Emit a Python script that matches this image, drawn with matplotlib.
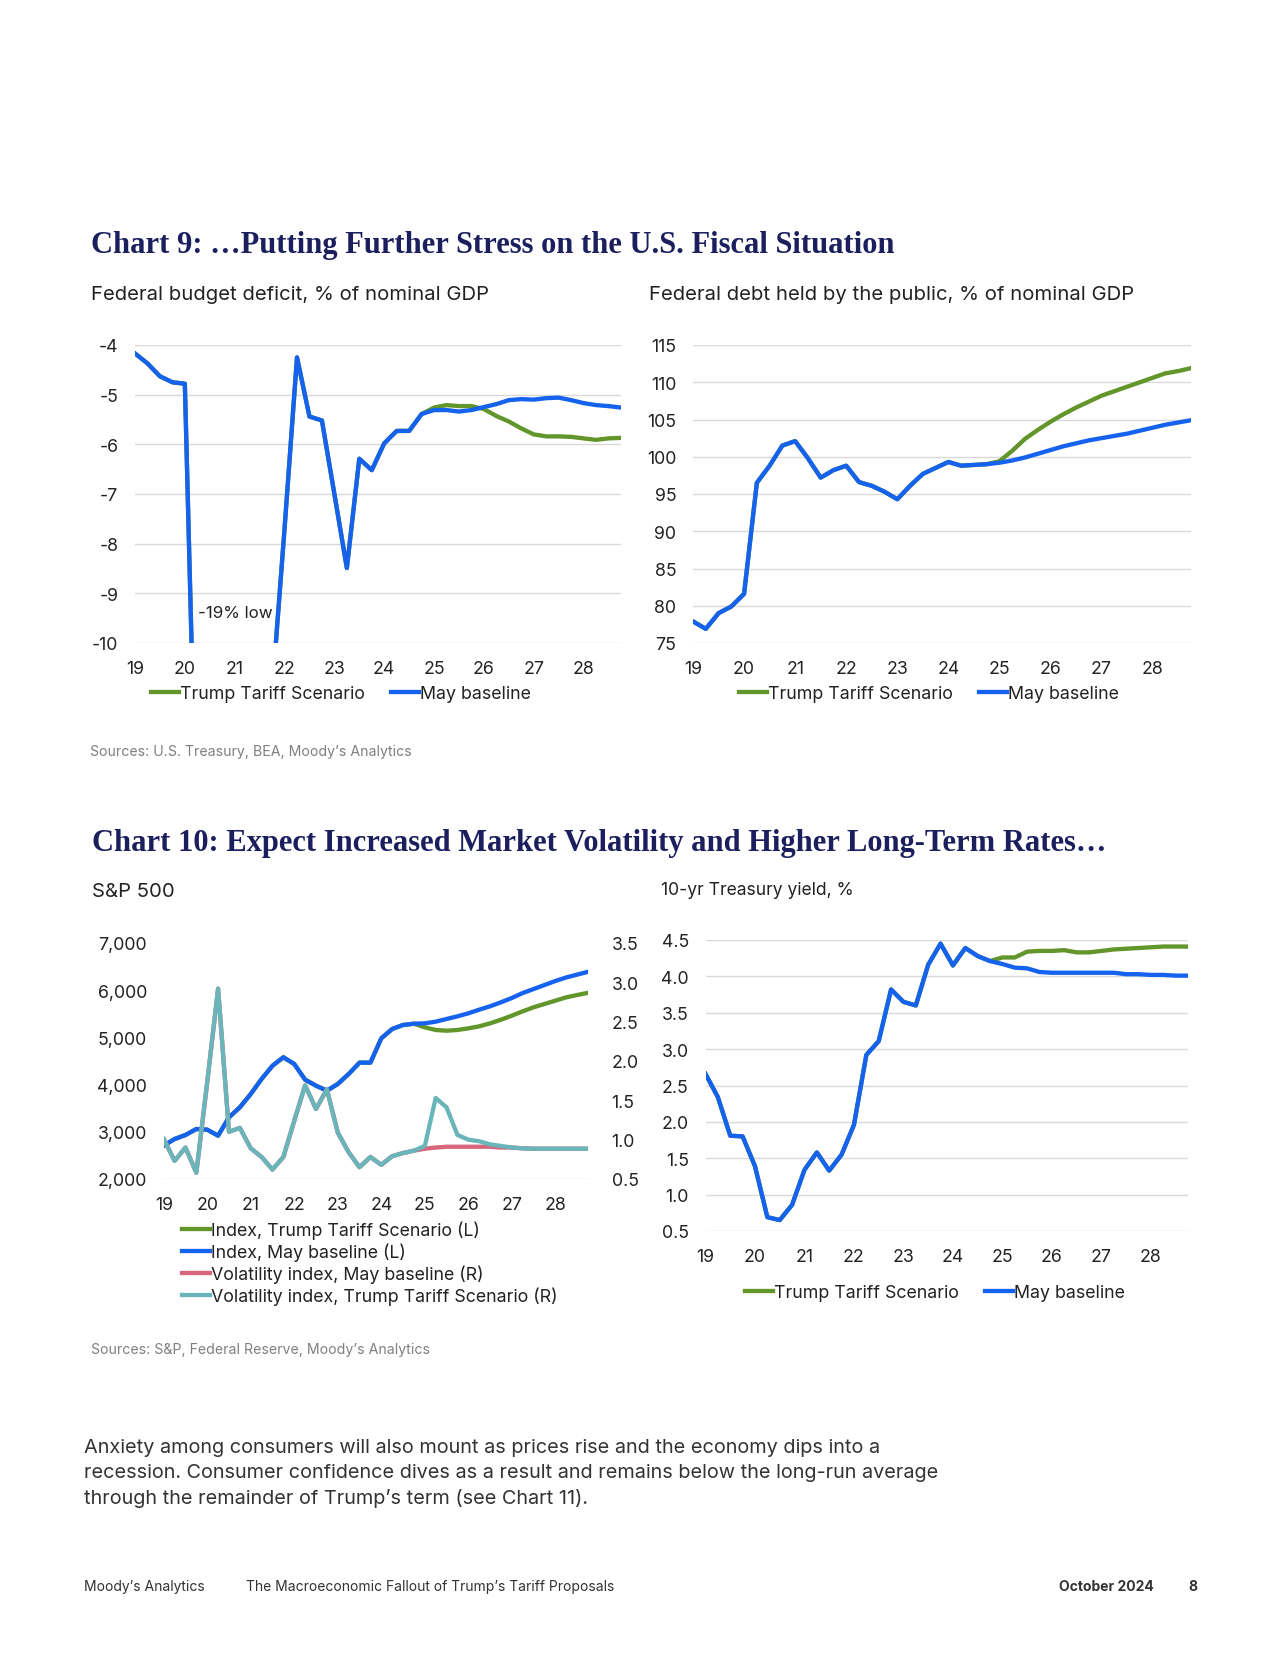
import matplotlib
matplotlib.use("Agg")
import matplotlib.pyplot as plt
from matplotlib.ticker import FuncFormatter

# page size in pixels
W, H = 1280, 1656

# quarters 2019Q1 .. 2028Q4
quarters = list(range(40))
year_ticks = [19, 20, 21, 22, 23, 24, 25, 26, 27, 28]

# Chart 9, left: federal budget deficit, % of GDP
deficit_base = [-4.17, -4.37, -4.63, -4.75, -4.78, -14.5, -19.0, -16.5, -15.0, -14.0,
                -13.0, -11.0, -7.7, -4.25, -5.44, -5.52, -7.0, -8.49, -6.29, -6.52,
                -5.98, -5.73, -5.73, -5.39, -5.31, -5.31, -5.34, -5.31, -5.25, -5.19,
                -5.11, -5.09, -5.10, -5.07, -5.06, -5.11, -5.17, -5.21, -5.23, -5.26]
deficit_tariff = [-4.17, -4.37, -4.63, -4.75, -4.78, -14.5, -19.0, -16.5, -15.0, -14.0,
                  -13.0, -11.0, -7.7, -4.25, -5.44, -5.52, -7.0, -8.49, -6.29, -6.52,
                  -5.98, -5.73, -5.73, -5.39, -5.26, -5.21, -5.23, -5.23, -5.29, -5.43,
                  -5.54, -5.68, -5.80, -5.84, -5.84, -5.85, -5.88, -5.91, -5.88, -5.87]

# Chart 9, right: federal debt held by the public, % of GDP
debt_base = [77.9, 76.9, 79.0, 79.9, 81.6, 96.5, 98.8, 101.5, 102.1, 99.8,
             97.2, 98.2, 98.8, 96.6, 96.1, 95.3, 94.3, 96.1, 97.7, 98.5,
             99.3, 98.8, 98.9, 99.0, 99.2, 99.5, 99.9, 100.4, 100.9, 101.4,
             101.8, 102.2, 102.5, 102.8, 103.1, 103.5, 103.9, 104.3, 104.6, 104.9]
debt_tariff = [77.9, 76.9, 79.0, 79.9, 81.6, 96.5, 98.8, 101.5, 102.1, 99.8,
               97.2, 98.2, 98.8, 96.6, 96.1, 95.3, 94.3, 96.1, 97.7, 98.5,
               99.3, 98.8, 98.9, 99.0, 99.4, 100.8, 102.4, 103.6, 104.7, 105.7,
               106.6, 107.4, 108.2, 108.8, 109.4, 110.0, 110.6, 111.2, 111.5, 111.9]

# Chart 10, left: S&P 500 index (L) and volatility index (R)
sp_base = [2706, 2847, 2932, 3059, 3045, 2918, 3307, 3519, 3801, 4119,
           4400, 4579, 4436, 4104, 3977, 3871, 4013, 4225, 4465, 4465,
           4980, 5178, 5263, 5290, 5298, 5333, 5390, 5447, 5510, 5587,
           5659, 5744, 5835, 5941, 6025, 6110, 6195, 6270, 6330, 6390]
sp_tariff = [2706, 2847, 2932, 3059, 3045, 2918, 3307, 3519, 3801, 4119,
             4400, 4579, 4436, 4104, 3977, 3871, 4013, 4225, 4465, 4465,
             4980, 5178, 5263, 5290, 5213, 5157, 5142, 5157, 5192, 5234,
             5298, 5375, 5460, 5553, 5638, 5708, 5778, 5849, 5898, 5945]
vol_base = [1.01, 0.73, 0.90, 0.58, 1.73, 2.92, 1.10, 1.15, 0.89, 0.78,
            0.62, 0.78, 1.24, 1.69, 1.39, 1.64, 1.09, 0.84, 0.65, 0.78,
            0.68, 0.79, 0.83, 0.86, 0.885, 0.90, 0.91, 0.91, 0.91, 0.91,
            0.91, 0.90, 0.90, 0.89, 0.885, 0.885, 0.885, 0.885, 0.885, 0.885]
vol_tariff = [1.01, 0.73, 0.90, 0.58, 1.73, 2.92, 1.10, 1.15, 0.89, 0.78,
              0.62, 0.78, 1.24, 1.69, 1.39, 1.64, 1.09, 0.84, 0.65, 0.78,
              0.68, 0.79, 0.83, 0.86, 0.92, 1.53, 1.41, 1.06, 1.00, 0.98,
              0.94, 0.92, 0.90, 0.89, 0.885, 0.885, 0.885, 0.885, 0.885, 0.885]

# Chart 10, right: 10-yr Treasury yield, %
yield_base = [2.66, 2.34, 1.81, 1.80, 1.39, 0.69, 0.65, 0.86, 1.34, 1.58,
              1.33, 1.55, 1.96, 2.92, 3.11, 3.82, 3.65, 3.60, 4.16, 4.45,
              4.15, 4.39, 4.28, 4.21, 4.17, 4.12, 4.11, 4.06, 4.05, 4.05,
              4.05, 4.05, 4.05, 4.05, 4.03, 4.03, 4.02, 4.02, 4.01, 4.01]
yield_tariff = [2.66, 2.34, 1.81, 1.80, 1.39, 0.69, 0.65, 0.86, 1.34, 1.58,
                1.33, 1.55, 1.96, 2.92, 3.11, 3.82, 3.65, 3.60, 4.16, 4.45,
                4.15, 4.39, 4.28, 4.21, 4.26, 4.26, 4.34, 4.35, 4.35, 4.36,
                4.33, 4.33, 4.35, 4.37, 4.38, 4.39, 4.40, 4.41, 4.41, 4.41]

GREEN = "#62952a"
BLUE = "#1462ee"
TEAL = "#6ab5ba"
PINK = "#d7667c"
NAVY = "#1b1f5e"
GRID = "#d9d9d9"
TEXT = "#222222"

plt.rcParams["font.family"] = ["Inter", "DejaVu Sans"]
plt.rcParams["axes.unicode_minus"] = False
TICK_SIZE = 12.8
SUB_SIZE = 14.6
TITLE_SIZE = 22
LW = 3.1

x = [19 + q / 4 for q in quarters]


def px_rect(left, top, right, bottom):
    return [left / W, 1 - bottom / H, (right - left) / W, (bottom - top) / H]


def fy(y):
    return 1 - y / H


def style_axes(ax, grid=True):
    for s in ax.spines.values():
        s.set_visible(False)
    ax.tick_params(length=0, labelsize=TICK_SIZE, colors=TEXT)
    ax.tick_params(axis="y", pad=12)
    ax.tick_params(axis="x", pad=12)
    ax.set_xlim(19, 28.75)
    ax.set_xticks(year_ticks)
    ax.set_xticklabels([str(t) for t in year_ticks])
    if grid:
        ax.yaxis.grid(True, color=GRID, lw=1)
        ax.set_axisbelow(True)


def add_legend(fig, handles, labels, x0, y0, ncol=2, colsp=1.45, labelsp=0.25):
    fig.legend(handles, labels, loc="center left", bbox_to_anchor=(x0 / W, fy(y0)),
               bbox_transform=fig.transFigure, ncol=ncol, frameon=False,
               fontsize=TICK_SIZE, handlelength=1.55, handletextpad=0.1,
               columnspacing=colsp, labelspacing=labelsp, borderpad=0,
               borderaxespad=0, labelcolor=TEXT)


fig = plt.figure(figsize=(W / 100, H / 100), dpi=100)

# ---------- Chart 9 ----------
fig.text(91 / W, fy(245), "Chart 9: \u2026Putting Further Stress on the U.S. Fiscal Situation",
         family="Liberation Serif", weight="bold", fontsize=TITLE_SIZE, color=NAVY, va="center")
fig.text(91 / W, fy(295), "Federal budget deficit, % of nominal GDP", fontsize=SUB_SIZE, color=TEXT, va="center")
fig.text(649 / W, fy(295), "Federal debt held by the public, % of nominal GDP", fontsize=SUB_SIZE, color=TEXT, va="center")

ax1 = fig.add_axes(px_rect(135, 346, 621, 644))
style_axes(ax1)
g1, = ax1.plot(x, deficit_tariff, color=GREEN, lw=LW)
b1, = ax1.plot(x, deficit_base, color=BLUE, lw=LW)
ax1.set_ylim(-10, -4)
ax1.set_yticks(range(-10, -3))
ax1.text(20.27, -9.38, "-19% low", fontsize=12.2, color=TEXT, va="center", ha="left")
add_legend(fig, [g1, b1], ["Trump Tariff Scenario", "May baseline"], 151, 695)

ax2 = fig.add_axes(px_rect(693, 346, 1191, 644))
style_axes(ax2)
g2, = ax2.plot(x, debt_tariff, color=GREEN, lw=LW)
b2, = ax2.plot(x, debt_base, color=BLUE, lw=LW)
ax2.set_ylim(75, 115)
ax2.set_yticks(range(75, 116, 5))
add_legend(fig, [g2, b2], ["Trump Tariff Scenario", "May baseline"], 739, 695)

fig.text(90 / W, fy(752), "Sources: U.S. Treasury, BEA, Moody\u2019s Analytics", fontsize=10.2, color="#808080", va="center")

# ---------- Chart 10 ----------
fig.text(92 / W, fy(844), "Chart 10: Expect Increased Market Volatility and Higher Long-Term Rates\u2026",
         family="Liberation Serif", weight="bold", fontsize=TITLE_SIZE, color=NAVY, va="center")
fig.text(92 / W, fy(892), "S&P 500", fontsize=SUB_SIZE, color=TEXT, va="center")
fig.text(661 / W, fy(891), "10-yr Treasury yield, %", fontsize=12.6, color=TEXT, va="center")

ax3 = fig.add_axes(px_rect(163.7, 944, 588, 1180))
style_axes(ax3, grid=False)
ax3.axhline(2000, color=GRID, lw=1, zorder=0)
g3, = ax3.plot(x, sp_tariff, color=GREEN, lw=LW)
b3, = ax3.plot(x, sp_base, color=BLUE, lw=LW)
ax3.set_ylim(2000, 7000)
ax3.set_yticks(range(2000, 7001, 1000))
ax3.yaxis.set_major_formatter(FuncFormatter(lambda v, p: f"{v:,.0f}"))
ax3r = ax3.twinx()
for s in ax3r.spines.values():
    s.set_visible(False)
p3, = ax3r.plot(x, vol_base, color=PINK, lw=LW)
t3, = ax3r.plot(x, vol_tariff, color=TEAL, lw=LW)
ax3r.set_ylim(0.5, 3.5)
ax3r.set_yticks([0.5, 1.0, 1.5, 2.0, 2.5, 3.0, 3.5])
ax3r.yaxis.set_major_formatter(FuncFormatter(lambda v, p: f"{v:.1f}"))
ax3r.tick_params(length=0, labelsize=TICK_SIZE, colors=TEXT, pad=17)
add_legend(fig, [g3, b3, p3, t3],
           ["Index, Trump Tariff Scenario (L)", "Index, May baseline (L)",
            "Volatility index, May baseline (R)", "Volatility index, Trump Tariff Scenario (R)"],
           182, 1264, ncol=1, labelsp=0.2)

ax4 = fig.add_axes(px_rect(705.5, 941, 1188, 1232))
style_axes(ax4)
g4, = ax4.plot(x, yield_tariff, color=GREEN, lw=LW)
b4, = ax4.plot(x, yield_base, color=BLUE, lw=LW)
ax4.set_ylim(0.5, 4.5)
ax4.set_yticks([0.5, 1.0, 1.5, 2.0, 2.5, 3.0, 3.5, 4.0, 4.5])
ax4.yaxis.set_major_formatter(FuncFormatter(lambda v, p: f"{v:.1f}"))
add_legend(fig, [g4, b4], ["Trump Tariff Scenario", "May baseline"], 745, 1294)

fig.text(91 / W, fy(1350), "Sources: S&P, Federal Reserve, Moody\u2019s Analytics", fontsize=10.2, color="#808080", va="center")

# ---------- body text and footer ----------
paragraph = [
    "Anxiety among consumers will also mount as prices rise and the economy dips into a",
    "recession. Consumer confidence dives as a result and remains below the long-run average",
    "through the remainder of Trump\u2019s term (see Chart 11).",
]
for i, line in enumerate(paragraph):
    fig.text(84.5 / W, fy(1448 + 25.5 * i), line, fontsize=14.3, color="#333333", va="center")

fig.text(84 / W, fy(1587), "Moody\u2019s Analytics", fontsize=10, color="#333333", va="center")
fig.text(246 / W, fy(1587), "The Macroeconomic Fallout of Trump\u2019s Tariff Proposals", fontsize=10, color="#333333", va="center")
fig.text(1059 / W, fy(1587), "October 2024", fontsize=10, weight="bold", color="#333333", va="center")
fig.text(1188 / W, fy(1587), "8", fontsize=10, weight="bold", color="#333333", va="center")

fig.savefig("out.png", dpi=100, facecolor="white")
